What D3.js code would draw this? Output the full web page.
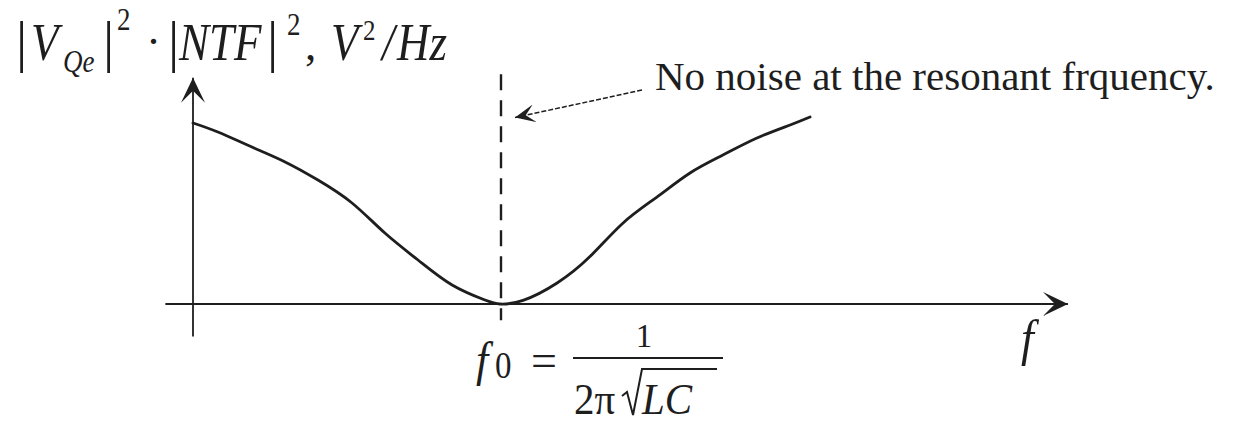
<!DOCTYPE html>
<html>
<head>
<meta charset="utf-8">
<script src="https://cdn.jsdelivr.net/npm/d3@7"></script>
<style>
  html, body { margin: 0; padding: 0; background: #fff; }
  svg { display: block; }
</style>
</head>
<body>
<svg id="chart" width="1243" height="427"></svg>
<script>
// Normalised frequency f / f0 and the shaped noise |V_Qe|^2 · |NTF|^2 (arbitrary units)
const freq  = [0, 0.081, 0.192, 0.300, 0.407, 0.518, 0.625, 0.733, 0.844, 0.951, 1.0,
               1.075, 1.186, 1.293, 1.401, 1.511, 1.619, 1.726, 1.837, 1.945, 2.010];
const noise = [1.0, 0.950, 0.867, 0.785, 0.685, 0.558, 0.392, 0.243, 0.105, 0.022, 0,
               0.020, 0.116, 0.262, 0.448, 0.591, 0.724, 0.823, 0.917, 0.989, 1.033];

// Resonant frequency marker (f / f0 = 1)
const resonance = 1.0;
const annotationText = "No noise at the resonant frquency.";

// Axis extents in data units
const xExtent = [-0.09, 2.85];
const yExtent = [-0.18, 1.25];

const serif = '"Liberation Serif", "Times New Roman", Tinos, serif';
const ink = "#1e1e1e";

const svg = d3.select("#chart");

const x = d3.scaleLinear().domain([0, 1]).range([193, 500]);
const y = d3.scaleLinear().domain([0, 1]).range([304, 123]);

// Barbed arrowhead markers
const defs = svg.append("defs");
function barb(id, len, half, notch) {
  defs.append("marker")
    .attr("id", id)
    .attr("viewBox", `${-len} ${-half} ${len + 1} ${half * 2}`)
    .attr("refX", 0).attr("refY", 0)
    .attr("markerUnits", "userSpaceOnUse")
    .attr("markerWidth", len + 1).attr("markerHeight", half * 2)
    .attr("orient", "auto")
    .append("path")
    .attr("d", `M0,0 L${-len},${-half} L${-notch},0 L${-len},${half} Z`)
    .attr("fill", ink);
}
barb("axisHead", 25, 12, 13);
barb("noteHead", 20, 9, 11);

// Horizontal (frequency) axis
svg.append("line")
  .attr("x1", x(xExtent[0])).attr("y1", y(0))
  .attr("x2", x(xExtent[1])).attr("y2", y(0))
  .attr("stroke", ink).attr("stroke-width", 1.8)
  .attr("marker-end", "url(#axisHead)");

// Vertical (noise density) axis
svg.append("line")
  .attr("x1", x(0)).attr("y1", y(yExtent[0]))
  .attr("x2", x(0)).attr("y2", y(yExtent[1]))
  .attr("stroke", ink).attr("stroke-width", 1.8)
  .attr("marker-end", "url(#axisHead)");

// Dashed line at the resonant frequency
svg.append("line")
  .attr("x1", x(resonance) + 1).attr("y1", y(1.27))
  .attr("x2", x(resonance) + 1).attr("y2", y(-0.09))
  .attr("stroke", ink).attr("stroke-width", 2.4)
  .attr("stroke-dasharray", "16,10");

// Noise curve
const line = d3.line()
  .x((d, i) => x(freq[i]))
  .y((d, i) => y(noise[i]))
  .curve(d3.curveNatural);

svg.append("path")
  .datum(noise)
  .attr("d", line)
  .attr("fill", "none")
  .attr("stroke", ink)
  .attr("stroke-width", 2.8)
  .attr("stroke-linecap", "round");

// Annotation with dashed pointer
svg.append("line")
  .attr("x1", 642).attr("y1", 90)
  .attr("x2", x(resonance) + 15).attr("y2", y(1.03))
  .attr("stroke", ink).attr("stroke-width", 1.5)
  .attr("stroke-dasharray", "5,2")
  .attr("marker-end", "url(#noteHead)");

svg.append("text")
  .attr("x", 655).attr("y", 90)
  .attr("font-size", 41)
  .style("font-family", serif).style("fill", ink)
  .text(annotationText);

// Math-set text pieces, slightly tall as set by the equation editor
function pieces(g, list) {
  g.selectAll("text").data(list).join("text")
    .attr("transform", d => `translate(${d.x},${d.y}) scale(1,${d.k || 1})`)
    .attr("font-size", d => d.s)
    .attr("text-anchor", d => d.a || "start")
    .style("font-family", serif).style("fill", ink)
    .style("font-style", d => d.i ? "italic" : "normal")
    .text(d => d.t);
}

// Y-axis title: |V_Qe|^2 · |NTF|^2, V^2/Hz
pieces(svg.append("g"), [
  { t: "|",   x: 16,  y: 61, s: 56 },
  { t: "V",   x: 31,  y: 60, s: 45, i: true, k: 1.15 },
  { t: "Qe",  x: 63,  y: 72, s: 27, i: true, k: 1.15 },
  { t: "|",   x: 103, y: 61, s: 56 },
  { t: "2",   x: 117, y: 30, s: 27, k: 1.15 },
  { t: "·",   x: 146, y: 56, s: 45 },
  { t: "|",   x: 168, y: 61, s: 56 },
  { t: "NTF", x: 179, y: 60, s: 45, i: true, k: 1.15 },
  { t: "|",   x: 267, y: 61, s: 56 },
  { t: "2",   x: 287, y: 35, s: 27, k: 1.15 },
  { t: ",",   x: 305, y: 60, s: 45 },
  { t: "V",   x: 331, y: 60, s: 45, i: true, k: 1.15 },
  { t: "2",   x: 363, y: 40, s: 25, k: 1.15 },
  { t: "/",   x: 382, y: 60, s: 45, i: true, k: 1.15 },
  { t: "Hz",  x: 397, y: 60, s: 45, i: true, k: 1.15 }
]);

// f0 = 1 / (2π√LC) below the resonance marker
const f0 = svg.append("g");
pieces(f0, [
  { t: "f",  x: 476, y: 376, s: 44, i: true, k: 1.12 },
  { t: "0",  x: 495, y: 378, s: 33, k: 1.12 },
  { t: "=",  x: 531, y: 376, s: 46 },
  { t: "1",  x: 644, y: 347, s: 33, a: "middle", k: 1.05 },
  { t: "2π", x: 574, y: 414, s: 41, k: 1.1 },
  { t: "LC", x: 642, y: 414, s: 41, i: true, k: 1.1 }
]);
f0.append("line").attr("x1", 573).attr("x2", 723).attr("y1", 358).attr("y2", 358)
  .attr("stroke", ink).attr("stroke-width", 2.2);
f0.append("path")
  .attr("d", "M622,396 L627,392 L633,415 L642,369 L717,369")
  .attr("fill", "none").attr("stroke", ink).attr("stroke-width", 2);

// Frequency axis label
pieces(svg.append("g"), [
  { t: "f", x: 1021, y: 355, s: 46, i: true, k: 1.12 }
]);
</script>
</body>
</html>
